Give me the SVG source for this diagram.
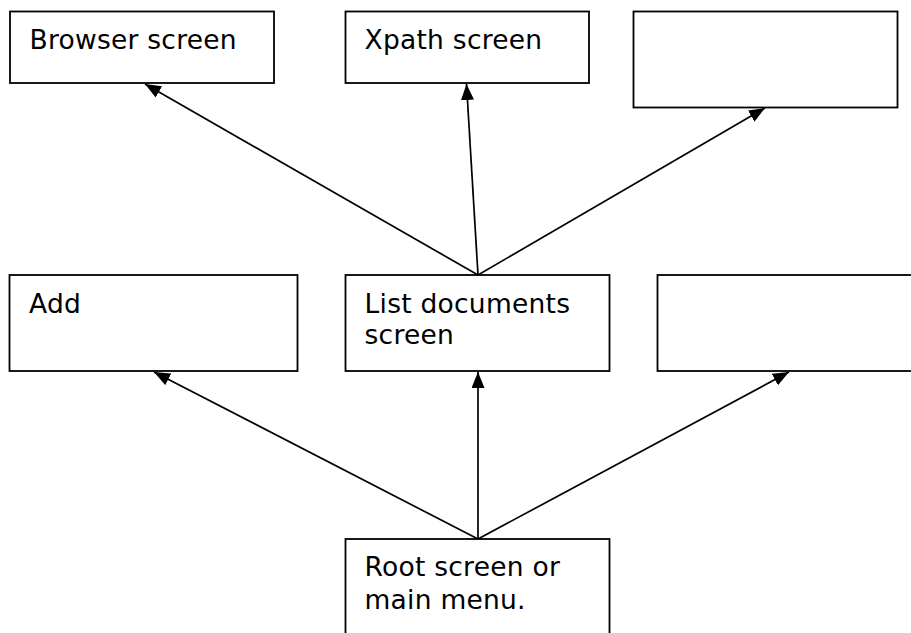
<svg xmlns="http://www.w3.org/2000/svg" width="911" height="633" viewBox="0 0 911 633">
  <style>
    .box { fill: #ffffff; stroke: #000000; stroke-width: 1.8; }
    .lbl { font-family: "DejaVu Sans", Verdana, sans-serif; font-size: 26.5px; letter-spacing: 0.25px; fill: #000000; }
    .edge { stroke: #000000; stroke-width: 1.7; fill: none; marker-end: url(#arrow); }
  </style>
  <defs>
    <marker id="arrow" markerUnits="userSpaceOnUse" markerWidth="16" markerHeight="13" refX="16" refY="6.5" orient="auto">
      <path d="M0,0 L16,6.5 L0,13 z" fill="#000000"/>
    </marker>
  </defs>
  <rect width="911" height="633" fill="#ffffff"/>

  <!-- top row -->
  <g id="browser-screen">
    <rect class="box" x="10" y="11.5" width="264" height="71.5"/>
    <text class="lbl" x="29.5" y="48.5">Browser screen</text>
  </g>
  <g id="xpath-screen">
    <rect class="box" x="345.5" y="11.5" width="243.5" height="71.5"/>
    <text class="lbl" x="364.5" y="49">Xpath screen</text>
  </g>
  <g id="blank-top">
    <rect class="box" x="633.5" y="11.5" width="264" height="96"/>
  </g>

  <!-- middle row -->
  <g id="add">
    <rect class="box" x="9.5" y="275" width="288" height="96"/>
    <text class="lbl" x="29" y="312.5">Add</text>
  </g>
  <g id="list-documents">
    <rect class="box" x="345.5" y="275" width="264" height="96"/>
    <text class="lbl" x="364.5" y="313">List documents</text>
    <text class="lbl" x="364.5" y="343.5">screen</text>
  </g>
  <g id="blank-middle">
    <rect class="box" x="657.5" y="275" width="270" height="96"/>
  </g>

  <!-- bottom -->
  <g id="root">
    <rect class="box" x="345.5" y="539" width="264" height="110"/>
    <text class="lbl" x="364.5" y="576">Root screen or</text>
    <text class="lbl" x="364.5" y="608.5">main menu.</text>
  </g>

  <g id="connectors">
    <line class="edge" x1="478" y1="275" x2="145" y2="84"/>
    <line class="edge" x1="478" y1="275" x2="466.5" y2="84"/>
    <line class="edge" x1="478" y1="275" x2="765" y2="108"/>
    <line class="edge" x1="478" y1="539" x2="154" y2="372"/>
    <line class="edge" x1="478" y1="539" x2="478" y2="372"/>
    <line class="edge" x1="478" y1="539" x2="789" y2="372"/>
  </g>
</svg>
